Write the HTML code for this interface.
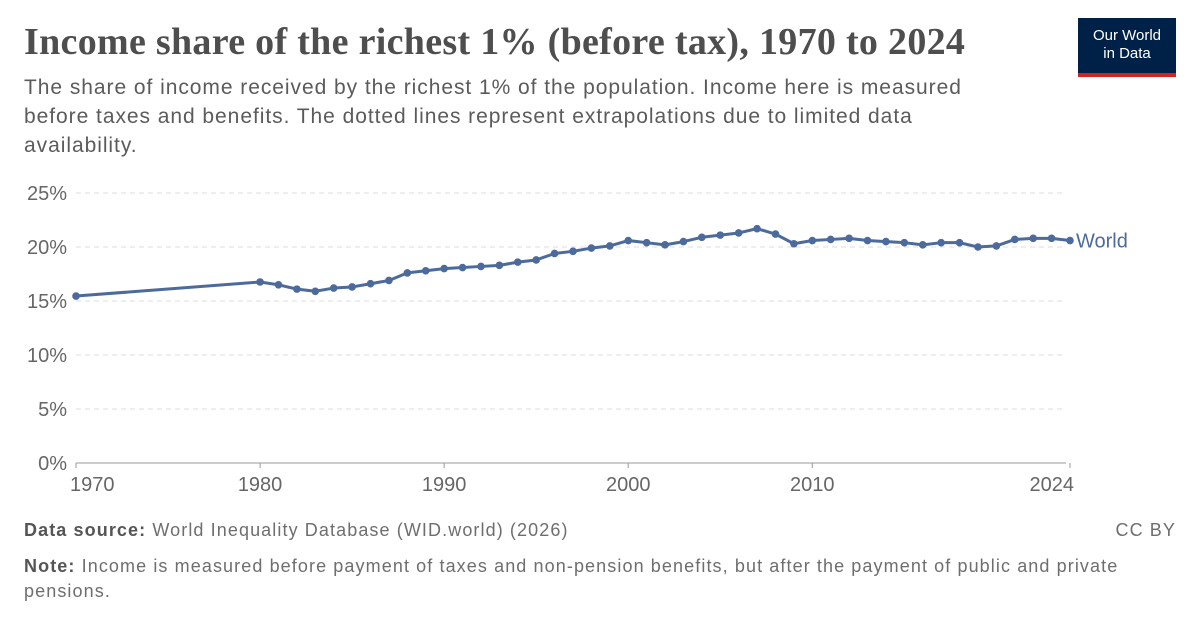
<!DOCTYPE html>
<html><head><meta charset="utf-8"><style>
body{margin:0;width:1200px;height:627px;background:#fff;font-family:"Liberation Sans",sans-serif;position:relative;overflow:hidden}
.t{position:absolute;left:24px;top:20px;font-family:"Liberation Serif",serif;font-size:38px;color:#4e4e4e;font-weight:bold;letter-spacing:0.3px;white-space:nowrap}
.s{position:absolute;left:24px;top:73px;font-size:21px;line-height:29px;color:#5b5b5b;letter-spacing:0.95px;white-space:nowrap}
.logo{position:absolute;left:1078px;top:18px;width:98px;height:59px;background:#002147;color:#fff;font-size:15px;line-height:18px;text-align:center;box-sizing:border-box;padding-top:9px}
.logo:after{content:"";position:absolute;left:0;bottom:0;width:100%;height:4px;background:#ce261e}
.f{position:absolute;left:24px;font-size:18px;color:#6e6e6e;line-height:25px;letter-spacing:1.1px;white-space:nowrap}
.f b{color:#555}
</style></head><body>
<div class="t">Income share of the richest 1% (before tax), 1970 to 2024</div>
<div class="s">The share of income received by the richest 1% of the population. Income here is measured<br>before taxes and benefits. The dotted lines represent extrapolations due to limited data<br>availability.</div>
<div class="logo">Our World<br>in Data</div>
<svg width="1200" height="627" style="position:absolute;left:0;top:0" id="ch"></svg>
<div class="f" style="top:518px"><b>Data source:</b> World Inequality Database (WID.world) (2026)</div>
<div class="f" style="top:518px;left:auto;right:24px">CC BY</div>
<div class="f" style="top:554px"><b>Note:</b> Income is measured before payment of taxes and non-pension benefits, but after the payment of public and private<br>pensions.</div>
<script>
const years=[1970,1980,1981,1982,1983,1984,1985,1986,1987,1988,1989,1990,1991,1992,1993,1994,1995,1996,1997,1998,1999,2000,2001,2002,2003,2004,2005,2006,2007,2008,2009,2010,2011,2012,2013,2014,2015,2016,2017,2018,2019,2020,2021,2022,2023,2024];
const values=[15.46,16.76,16.5,16.1,15.9,16.2,16.3,16.6,16.9,17.6,17.8,18.0,18.1,18.2,18.3,18.6,18.8,19.4,19.6,19.9,20.1,20.6,20.4,20.2,20.5,20.9,21.1,21.3,21.7,21.2,20.3,20.6,20.7,20.8,20.6,20.5,20.4,20.2,20.4,20.4,20.0,20.1,20.7,20.8,20.8,20.6];
const yTicks=[0,5,10,15,20,25];
const xTicks=[1970,1980,1990,2000,2010,2024];
const ns="http://www.w3.org/2000/svg",svg=document.getElementById('ch');
const X=y=>76+(y-1970)*(994/54), Y=v=>463-v*10.8;
function mk(t,a,txt){const e=document.createElementNS(ns,t);for(const k in a)e.setAttribute(k,a[k]);if(txt!=null)e.textContent=txt;svg.appendChild(e);return e;}
yTicks.forEach(v=>{
 const l=mk('line',{x1:76,x2:1066,y1:Y(v),y2:Y(v),stroke:v?'#ddd':'#999','stroke-dasharray':v?'5,4':'none'});
 
 
 const t=mk('text',{x:67,y:Y(v)+7,'text-anchor':'end','font-size':20,fill:'#666','font-family':'Liberation Sans,sans-serif'},v+'%');
 
 
});
xTicks.forEach(y=>{
 const l=mk('line',{x1:X(y),x2:X(y),y1:463,y2:468,stroke:'#999'});
 
 
 const t=mk('text',{x:X(y),y:491,'text-anchor':y==1970?'start':(y==2024?'end':'middle'),'font-size':20,fill:'#666','font-family':'Liberation Sans,sans-serif'},y);
 if(y==1970)t.setAttribute('x',X(y)-6);
 if(y==2024)t.setAttribute('x',X(y)+4);
 
 
});
const p=mk('polyline',{points:years.map((y,i)=>X(y)+','+Y(values[i])).join(' '),fill:'none',stroke:'#4c6a9c','stroke-width':3,'stroke-linejoin':'round'});


years.forEach((y,i)=>{
 const c=mk('circle',{cx:X(y),cy:Y(values[i]),r:3.8,fill:'#4c6a9c'});
 
 
});
const lb=mk('text',{x:X(2024)+6,y:Y(values[values.length-1])+7,'font-size':20,fill:'#4c6a9c','font-family':'Liberation Sans,sans-serif'},'World');


</script>
</body></html>
